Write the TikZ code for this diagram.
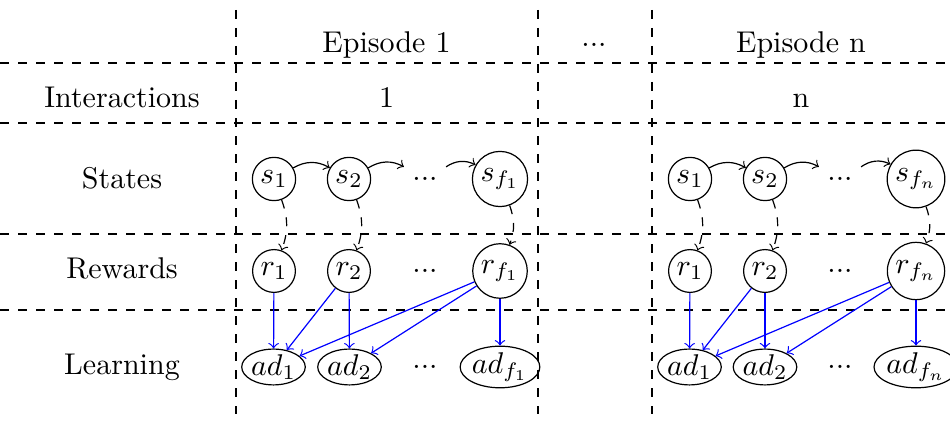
\documentclass[tikz,border=0pt]{standalone}
\usetikzlibrary{shapes.geometric,arrows}
\begin{document}
\begin{tikzpicture}[x=0.3333pt,y=0.3333pt,
  grid/.style={dashed},
  cnode/.style={draw,circle,inner sep=1.3pt},
  enode/.style={draw,ellipse,inner sep=0pt},
  lab/.style={anchor=base},
  dotnode/.style={inner sep=3.33pt},
  sarrow/.style={->,bend left=30},
  darrow/.style={->,dashed,bend left=20},
  barrow/.style={->,blue}]
\useasboundingbox (0,0) rectangle (950,-421);
% grid
\draw[grid] (0,-63) -- (950,-63);
\draw[grid] (0,-123) -- (950,-123);
\draw[grid] (0,-234) -- (950,-234);
\draw[grid] (0,-310) -- (950,-310);
\draw[grid] (236,-10) -- (236,-414);
\draw[grid] (538,-10) -- (538,-414);
\draw[grid] (652,-10) -- (652,-414);
% headers
\node[lab] (ep1) at (386.5,-52.5) {Episode 1};
\node (epd) at (594,-45) {...};
\node[lab] (epn) at (801,-52.5) {Episode n};
\node[lab] (inter) at (122,-108) {Interactions};
\node[lab] (i1) at (386.5,-108) {1};
\node[lab] (in) at (801,-108) {n};
\node[lab] (states) at (122,-189) {States};
\node[lab] (rewards) at (122,-279) {Rewards};
\node[lab] (learning) at (122,-375) {Learning};
% episode 1
\node[cnode] (s11) at (274,-179) {$s_1$};
\node[cnode] (s12) at (349,-179) {$s_2$};
\node[dotnode] (sd1) at (425,-179) {...};
\node[cnode] (s1f) at (500,-179) {$s_{f_1}$};
\node[cnode] (r11) at (274,-271) {$r_1$};
\node[cnode] (r12) at (349,-271) {$r_2$};
\node[dotnode] (rd1) at (425,-271) {...};
\node[cnode] (r1f) at (500,-271) {$r_{f_1}$};
\node[enode] (a11) at (273.5,-367) {$ad_1$};
\node[enode] (a12) at (349.5,-367) {$ad_2$};
\node[dotnode] (ad1) at (425,-367) {...};
\node[enode] (a1f) at (500,-367) {$ad_{f_1}$};
\draw[sarrow] (s11) to (s12);
\draw[sarrow] (s12) to (sd1);
\draw[sarrow] (sd1) to (s1f);
\draw[darrow] (s11) to (r11);
\draw[darrow] (s12) to (r12);
\draw[darrow] (s1f) to (r1f);
\draw[barrow] (r11) -- (a11);
\draw[barrow] (r12) -- (a11);
\draw[barrow] (r12) -- (a12);
\draw[barrow] (r1f) -- (a11);
\draw[barrow] (r1f) -- (a12);
\draw[barrow] (r1f) -- (a1f);
% episode n
\node[cnode] (sn1) at (690,-179) {$s_1$};
\node[cnode] (sn2) at (765,-179) {$s_2$};
\node[dotnode] (sdn) at (840,-179) {...};
\node[cnode] (snf) at (916,-179) {$s_{f_n}$};
\node[cnode] (rn1) at (690,-271) {$r_1$};
\node[cnode] (rn2) at (765,-271) {$r_2$};
\node[dotnode] (rdn) at (840,-271) {...};
\node[cnode] (rnf) at (916,-271) {$r_{f_n}$};
\node[enode] (an1) at (689.5,-367) {$ad_1$};
\node[enode] (an2) at (765,-367) {$ad_2$};
\node[dotnode] (adn) at (840,-367) {...};
\node[enode] (anf) at (916,-367) {$ad_{f_n}$};
\draw[sarrow] (sn1) to (sn2);
\draw[sarrow] (sn2) to (sdn);
\draw[sarrow] (sdn) to (snf);
\draw[darrow] (sn1) to (rn1);
\draw[darrow] (sn2) to (rn2);
\draw[darrow] (snf) to (rnf);
\draw[barrow] (rn1) -- (an1);
\draw[barrow] (rn2) -- (an1);
\draw[barrow] (rn2) -- (an2);
\draw[barrow] (rnf) -- (an1);
\draw[barrow] (rnf) -- (an2);
\draw[barrow] (rnf) -- (anf);
\end{tikzpicture}
\end{document}
